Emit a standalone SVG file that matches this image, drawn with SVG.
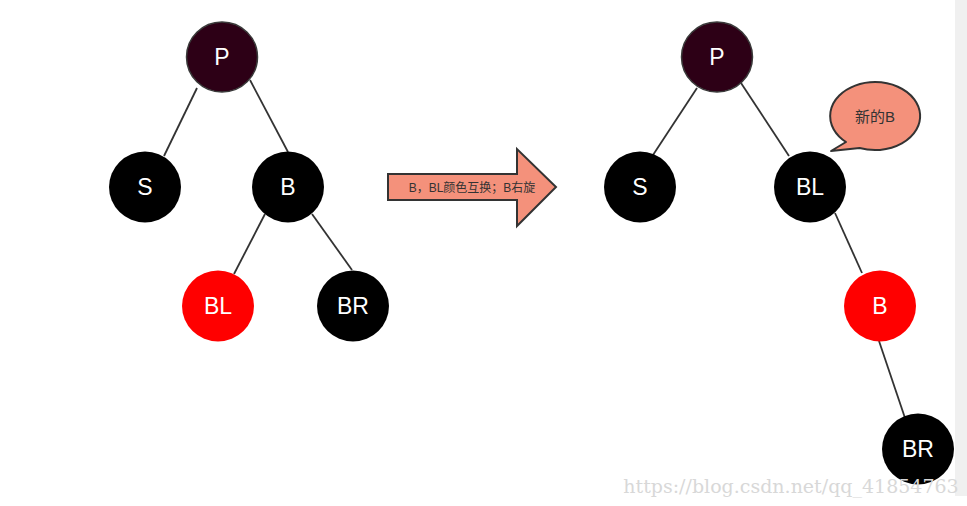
<svg xmlns="http://www.w3.org/2000/svg" width="967" height="506" viewBox="0 0 967 506">
<style>
.n{stroke:none}
.k{fill:#000}
.r{fill:#ff0000}
.p{fill:#2d0016;stroke:#3a3a3a;stroke-width:1.5}
.t{font-family:"Liberation Sans",Arial,sans-serif;font-size:23px;fill:#fff;text-anchor:middle}
.e{stroke:#333;stroke-width:1.8;fill:none}
.sal{fill:#f4917b;stroke:#333;stroke-width:2}
.s{font-family:"Liberation Sans","Noto Sans CJK SC",sans-serif;fill:#333;text-anchor:middle}
</style>
<rect x="0" y="0" width="967" height="506" fill="#fff"/>
<rect x="955" y="0" width="12" height="496" fill="#f0f0f0"/>
<g id="connectors">
<line class="e" x1="197" y1="88" x2="164" y2="156"/>
<line class="e" x1="250" y1="80" x2="288" y2="152"/>
<line class="e" x1="265" y1="214" x2="234" y2="274"/>
<line class="e" x1="312" y1="214" x2="352" y2="270"/>
<line class="e" x1="697" y1="88" x2="653" y2="155"/>
<line class="e" x1="741" y1="83" x2="789" y2="156"/>
<line class="e" x1="835" y1="213" x2="862" y2="273"/>
<line class="e" x1="879" y1="341" x2="905" y2="418"/>
</g>
<g id="L-P"><ellipse class="p" cx="222" cy="57" rx="35.5" ry="35"/><text class="t" x="222" y="65">P</text></g>
<g id="L-S"><ellipse class="k" cx="145" cy="187" rx="36" ry="35.5"/><text class="t" x="145" y="195">S</text></g>
<g id="L-B"><ellipse class="k" cx="288" cy="187" rx="36" ry="35.5"/><text class="t" x="288" y="195">B</text></g>
<g id="L-BL"><ellipse class="r" cx="218" cy="306" rx="36" ry="35.5"/><text class="t" x="218" y="314">BL</text></g>
<g id="L-BR"><ellipse class="k" cx="353" cy="306" rx="36" ry="35.5"/><text class="t" x="353" y="314">BR</text></g>
<g id="arrow">
<polygon class="sal" points="388,174 517,174 517,149 556,187 517,226 517,200 388,200"/>
<text class="s" x="472" y="192" font-size="12">B，BL颜色互换；B右旋</text>
</g>
<g id="R-P"><ellipse class="p" cx="717" cy="57" rx="35.5" ry="35"/><text class="t" x="717" y="65">P</text></g>
<g id="R-S"><ellipse class="k" cx="640" cy="187" rx="36" ry="35.5"/><text class="t" x="640" y="195">S</text></g>
<g id="R-BL"><ellipse class="k" cx="810" cy="187" rx="36" ry="35.5"/><text class="t" x="810" y="195">BL</text></g>
<g id="R-B"><ellipse class="r" cx="880" cy="306" rx="36" ry="35.5"/><text class="t" x="880" y="314">B</text></g>
<g id="R-BR"><ellipse class="k" cx="918" cy="449" rx="36" ry="35.5"/><text class="t" x="918" y="457">BR</text></g>
<g id="bubble">
<path class="sal" d="M 846,142 A 45 34 0 1 1 859.6,148 L 831,151 Z" stroke-linejoin="round"/>
<text class="s" x="875" y="122" font-size="15">新的B</text>
</g>
<text x="791" y="493" font-family="'DejaVu Serif','Liberation Serif',serif" font-size="19" fill="#d8d8d8" text-anchor="middle">https://blog.csdn.net/qq_41854763</text>
</svg>
